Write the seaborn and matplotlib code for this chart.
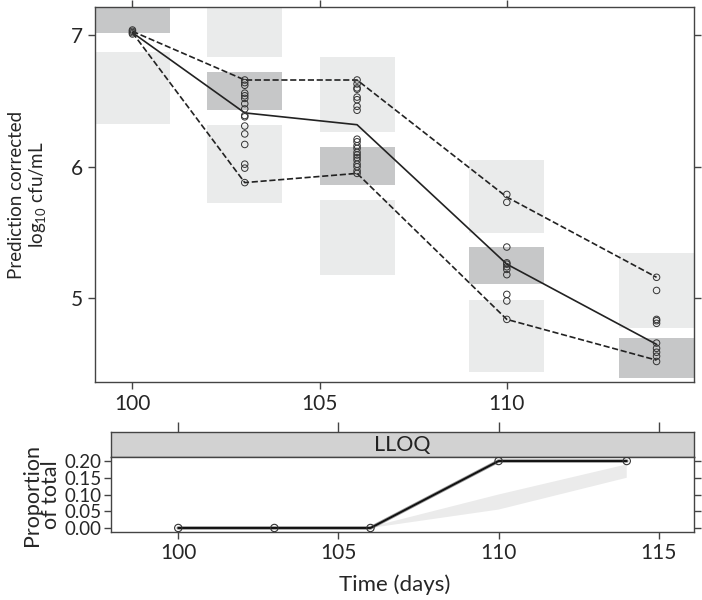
import numpy as np
import pandas as pd
import seaborn as sns
import matplotlib.pyplot as plt

# ---- observed data (prediction corrected log10 cfu/mL) ----
obs_time = ([100] * 4
            + [103] * 16
            + [106] * 20
            + [110] * 11
            + [114] * 10)
obs_value = ([7.02, 7.03, 7.04, 7.01]
             + [6.66, 6.64, 6.62, 6.56, 6.54, 6.52, 6.48, 6.44, 6.39, 6.38,
                6.31, 6.25, 6.17, 6.02, 5.99, 5.88]
             + [6.66, 6.63, 6.60, 6.59, 6.53, 6.51, 6.46, 6.43,
                6.21, 6.19, 6.16, 6.14, 6.11, 6.09, 6.07, 6.05, 6.02, 6.00, 5.97, 5.95]
             + [5.79, 5.73, 5.39, 5.27, 5.26, 5.24, 5.22, 5.18, 5.03, 4.98, 4.84]
             + [5.16, 5.06, 4.84, 4.83, 4.81, 4.66, 4.62, 4.59, 4.56, 4.52])

# observed percentiles
pct_time = [100, 103, 106, 110, 114]
obs_median = [7.02, 6.41, 6.32, 5.26, 4.65]
obs_upper = [7.03, 6.66, 6.66, 5.77, 5.16]
obs_lower = [7.02, 5.88, 5.95, 4.84, 4.53]

# simulated confidence intervals of percentiles (bin centre, width)
bin_center = [100, 103, 106, 110, 114]
bin_width = 2
ci_upper_lo = [7.30, 6.835, 6.265, 5.50, 4.774]
ci_upper_hi = [7.60, 7.30, 6.835, 6.05, 5.344]
ci_median_lo = [7.017, 6.43, 5.86, 5.11, 4.394]
ci_median_hi = [7.30, 6.72, 6.15, 5.39, 4.698]
ci_lower_lo = [6.325, 5.725, 5.18, 4.44, 3.80]
ci_lower_hi = [6.873, 6.318, 5.748, 4.99, 4.30]

# ---- LLOQ proportion ----
lloq_time = [100, 103, 106, 110, 114]
lloq_obs = [0.0, 0.0, 0.0, 0.2, 0.2]
lloq_pi_time = [100, 103, 106, 110, 114]
lloq_pi_lo = [0.0, 0.0, 0.0, 0.055, 0.15]
lloq_pi_hi = [0.003, 0.003, 0.003, 0.10, 0.19]

sns.set_style("ticks")
plt.rcParams['font.family'] = ['Lato', 'DejaVu Sans']
plt.rcParams['mathtext.fontset'] = 'custom'
plt.rcParams['mathtext.rm'] = 'Lato'
plt.rcParams['mathtext.it'] = 'Lato'

frame_col = "#444444"
dark_grey = "#c6c7c8"
light_grey = "#eaebeb"

fig = plt.figure(figsize=(7.02, 6.0), dpi=100)
W, H = 702, 600


def px_axes(left, top, right, bottom):
    return fig.add_axes([left / W, 1 - bottom / H, (right - left) / W, (bottom - top) / H])


ax = px_axes(95, 7, 694, 382)
strip = px_axes(111, 432, 694, 457)
ax2 = px_axes(111, 457, 694, 532)

# ---- top panel ----
for lo, hi, col in [(ci_upper_lo, ci_upper_hi, light_grey),
                    (ci_lower_lo, ci_lower_hi, light_grey),
                    (ci_median_lo, ci_median_hi, dark_grey)]:
    ax.bar(bin_center, np.array(hi) - np.array(lo), bottom=lo, width=bin_width,
           color=col, edgecolor="none", zorder=1)

pct = pd.DataFrame({"time": pct_time, "median": obs_median,
                    "upper": obs_upper, "lower": obs_lower})
sns.lineplot(data=pct, x="time", y="median", ax=ax, color="#222222", lw=1.2, zorder=3)
for col in ["upper", "lower"]:
    sns.lineplot(data=pct, x="time", y=col, ax=ax, color="#222222", lw=1.2,
                 dashes=(4.5, 3.5), linestyle="--", zorder=3)

obs = pd.DataFrame({"time": obs_time, "value": obs_value})
sns.scatterplot(data=obs, x="time", y="value", ax=ax, marker="o", s=22,
                facecolor="none", edgecolor="#333333", linewidth=0.7, zorder=4)

ax.set_xlim(99, 115)
ax.set_ylim(4.364, 7.215)
ax.set_xticks([100, 105, 110])
ax.set_yticks([5, 6, 7])
ax.set_xlabel("")
ax.set_ylabel("Prediction corrected\nlog$_{10}$ cfu/mL", fontsize=13.5, labelpad=16,
              linespacing=1.15)
ax.tick_params(axis="both", which="both", direction="out", length=5, width=1,
               color=frame_col, labelsize=15, top=True, right=True, pad=4)

# ---- strip ----
strip.set_facecolor("#d2d2d2")
strip.set_xlim(97.9, 116.1)
strip.set_ylim(0, 1)
strip.set_xticks([100, 105, 110, 115])
strip.set_yticks([])
strip.tick_params(axis="x", direction="out", length=7, width=1, color=frame_col,
                  bottom=False, top=True, labelbottom=False, labeltop=False)
strip.text(0.5, 0.5, "LLOQ", ha="center", va="center", fontsize=15.5,
           color="#222222", transform=strip.transAxes)

# ---- bottom panel ----
ax2.fill_between(lloq_pi_time, lloq_pi_lo, lloq_pi_hi, color="#ebebeb",
                 edgecolor="none", zorder=1)
lloq = pd.DataFrame({"time": lloq_time, "prop": lloq_obs})
sns.lineplot(data=lloq, x="time", y="prop", ax=ax2, color="#9a9a9a", lw=2.6, zorder=2)
sns.lineplot(data=lloq, x="time", y="prop", ax=ax2, color="#111111", lw=1.4, zorder=3)
sns.scatterplot(data=lloq, x="time", y="prop", ax=ax2, marker="o", s=28,
                facecolor="none", edgecolor="#333333", linewidth=0.8, zorder=4)
ax2.set_xlim(97.9, 116.1)
ax2.set_ylim(-0.012, 0.212)
ax2.set_xticks([100, 105, 110, 115])
ax2.set_yticks([0.0, 0.05, 0.10, 0.15, 0.20])
ax2.set_yticklabels(["0.00", "0.05", "0.10", "0.15", "0.20"])
ax2.set_xlabel("")
ax2.set_ylabel("Proportion\nof total", fontsize=15.5, labelpad=2, linespacing=0.95)
ax2.tick_params(axis="both", direction="out", length=5, width=1, color=frame_col,
                labelsize=15, right=True, pad=3)
ax2.tick_params(axis="y", labelsize=13.5, pad=2)

for a in (ax, strip, ax2):
    for s in a.spines.values():
        s.set_color(frame_col)
        s.set_linewidth(1)

fig.text(395 / W, 1 - 585 / H, "Time (days)", ha="center", va="center", fontsize=16)

fig.savefig("out.png", dpi=100)
